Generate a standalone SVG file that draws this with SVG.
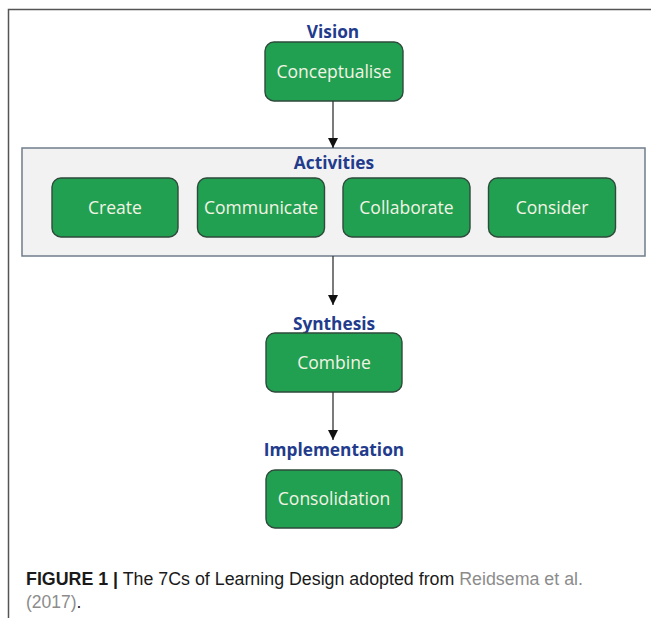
<svg xmlns="http://www.w3.org/2000/svg" width="651" height="618" viewBox="0 0 651 618">
  <style>
    .frame { fill: none; stroke: #555; stroke-width: 1.5; }
    .group { fill: #f2f2f2; stroke: #6f7d8a; stroke-width: 1.5; }
    .node { fill: #22a052; stroke: #2e4a3b; stroke-width: 1.4; }
    .label { font-family: "Open Sans", "Noto Sans", sans-serif; font-size: 17.5px; fill: #f3f3e4; text-anchor: middle; }
    .title { font-family: "Open Sans", "Noto Sans", sans-serif; font-size: 17.3px; font-weight: bold; fill: #223b8c; text-anchor: middle; }
    .edge { stroke: #333; stroke-width: 1.3; fill: none; marker-end: url(#arrow); }
    .cap { font-family: "Liberation Sans", Arial, sans-serif; font-size: 17.5px; fill: #1a1a1a; }
    .ref { fill: #8c8c8c; }
  </style>
  <defs>
    <marker id="arrow" viewBox="0 0 10 12" refX="10" refY="6" markerWidth="10" markerHeight="12" markerUnits="userSpaceOnUse" orient="auto">
      <path d="M0,1 L10,6 L0,11 z" fill="#111"/>
    </marker>
  </defs>

  <!-- page frame -->
  <path class="frame" d="M8.5,618 V9.5 H651"/>

  <!-- Vision -->
  <g id="vision">
    <text class="title" x="333" y="38">Vision</text>
    <rect class="node" x="265" y="42" width="138" height="59" rx="9"/>
    <text class="label" x="334" y="77.5">Conceptualise</text>
  </g>

  <!-- Activities container -->
  <g id="activities">
    <rect class="group" x="22" y="148" width="623" height="108"/>
    <text class="title" x="334" y="169">Activities</text>
  </g>
  <g id="create">
    <rect class="node" x="52" y="178" width="126" height="59" rx="9"/>
    <text class="label" x="115" y="213.5">Create</text>
  </g>
  <g id="communicate">
    <rect class="node" x="197.5" y="178" width="127" height="59" rx="9"/>
    <text class="label" x="261" y="213.5">Communicate</text>
  </g>
  <g id="collaborate">
    <rect class="node" x="343" y="178" width="127" height="59" rx="9"/>
    <text class="label" x="406.5" y="213.5">Collaborate</text>
  </g>
  <g id="consider">
    <rect class="node" x="488.5" y="178" width="127" height="59" rx="9"/>
    <text class="label" x="552" y="213.5">Consider</text>
  </g>

  <!-- Synthesis -->
  <g id="synthesis">
    <text class="title" x="334" y="330">Synthesis</text>
    <rect class="node" x="266" y="333" width="136" height="59" rx="9"/>
    <text class="label" x="334" y="368.5">Combine</text>
  </g>

  <!-- Implementation -->
  <g id="implementation">
    <text class="title" x="334" y="456">Implementation</text>
    <rect class="node" x="266" y="470" width="136" height="58" rx="9"/>
    <text class="label" x="334" y="504.5">Consolidation</text>
  </g>

  <!-- connectors -->
  <g id="connectors">
    <line class="edge" x1="333" y1="101" x2="333" y2="148"/>
    <line class="edge" x1="333" y1="256" x2="333" y2="305"/>
    <line class="edge" x1="333" y1="392" x2="333" y2="440"/>
  </g>

  <!-- caption -->
  <g id="caption">
    <text class="cap" x="26" y="585" textLength="557" lengthAdjust="spacingAndGlyphs"><tspan font-weight="bold">FIGURE 1 |</tspan> The 7Cs of Learning Design adopted from <tspan class="ref">Reidsema et al.</tspan></text>
    <text class="cap" x="26" y="608"><tspan class="ref">(2017)</tspan>.</text>
  </g>
</svg>
